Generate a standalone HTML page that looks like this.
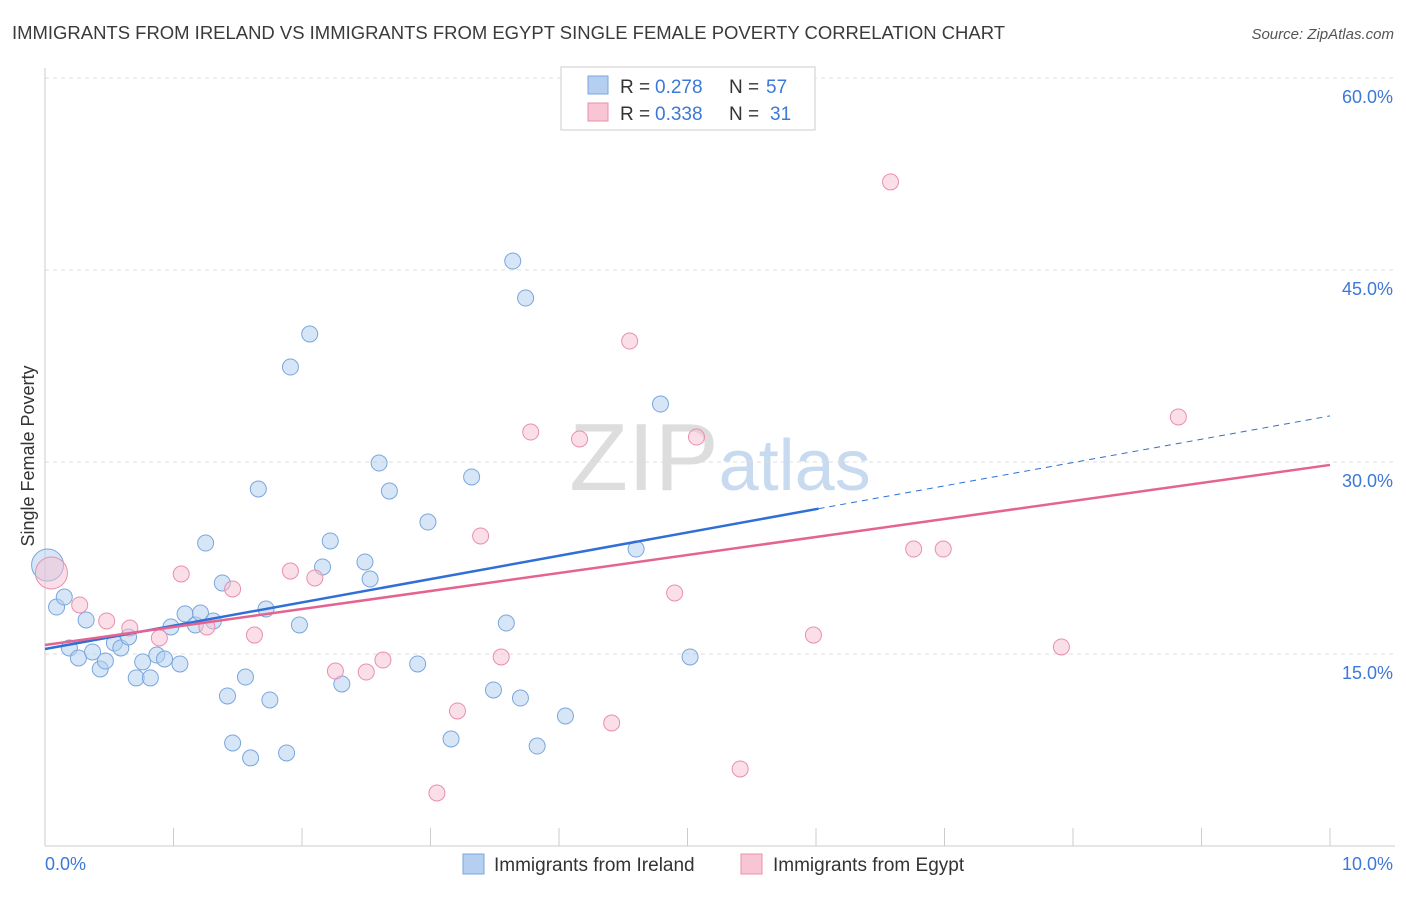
<!DOCTYPE html>
<html><head><meta charset="utf-8"><style>
body{margin:0;background:#fff;font-family:"Liberation Sans",sans-serif;}
svg text{font-family:"Liberation Sans",sans-serif;}
</style></head><body>
<svg id="chart" width="1406" height="892" xmlns="http://www.w3.org/2000/svg">
<text x="12" y="39" font-size="18" fill="#3a3a3a" textLength="993" lengthAdjust="spacingAndGlyphs">IMMIGRANTS FROM IRELAND VS IMMIGRANTS FROM EGYPT SINGLE FEMALE POVERTY CORRELATION CHART</text>
<text x="1394" y="39" font-size="15" fill="#555" text-anchor="end" font-style="italic">Source: ZipAtlas.com</text>
<text transform="translate(34,456) rotate(-90)" font-size="18" fill="#333" text-anchor="middle">Single Female Poverty</text>
<text x="720" y="490" font-size="96" fill="#ddd" text-anchor="middle" font-family="Liberation Serif">ZIP<tspan fill="#c8daf0" font-family="Liberation Sans" font-size="72">atlas</tspan></text>
<g id="grid"></g><g id="axes"></g><g id="marks"></g>
<g>
<rect x="561" y="67" width="254" height="63" fill="#fff" stroke="#ccc"/>
<rect x="588" y="76" width="20" height="18" fill="#b5cff0" stroke="#7aa6dd"/>
<text x="620" y="93" font-size="19" fill="#333">R =</text>
<text x="655" y="93" font-size="19" fill="#3c78d8">0.278</text>
<text x="729" y="93" font-size="19" fill="#333">N =</text>
<text x="766" y="93" font-size="19" fill="#3c78d8">57</text>
<rect x="588" y="103" width="20" height="18" fill="#f8c5d4" stroke="#ea8fab"/>
<text x="620" y="120" font-size="19" fill="#333">R =</text>
<text x="655" y="120" font-size="19" fill="#3c78d8">0.338</text>
<text x="729" y="120" font-size="19" fill="#333">N =</text>
<text x="770" y="120" font-size="19" fill="#3c78d8">31</text>
</g>
<g>
<rect x="463" y="854" width="21" height="20" fill="#b5cff0" stroke="#7aa6dd"/>
<text x="494" y="871" font-size="19" fill="#333">Immigrants from Ireland</text>
<rect x="741" y="854" width="21" height="20" fill="#f8c5d4" stroke="#ea8fab"/>
<text x="773" y="871" font-size="19" fill="#333">Immigrants from Egypt</text>
</g>
</svg>
<script>
const blueX=[.02,.09,.15,.19,.26,.32,.37,.43,.47,.54,.59,.65,.71,.76,.82,.87,.93,.98,1.05,1.09,1.17,1.21,1.25,1.31,1.38,1.42,1.46,1.56,1.60,1.66,1.72,1.75,1.88,1.91,1.98,2.06,2.16,2.22,2.31,2.49,2.53,2.60,2.68,2.90,2.98,3.16,3.32,3.49,3.59,3.64,3.70,3.74,3.83,4.05,4.60,4.79,5.02];
const blueY=[21.95,18.67,19.45,15.47,14.69,17.66,15.16,13.83,14.45,15.86,15.47,16.33,13.13,14.38,13.13,14.92,14.61,17.11,14.22,18.13,17.27,18.2,23.67,17.58,20.55,11.72,8.05,13.2,6.88,27.89,18.52,11.41,7.27,37.42,17.27,40.0,21.8,23.83,12.66,22.19,20.86,29.92,27.73,14.22,25.31,8.36,28.83,12.19,17.42,45.7,11.56,42.81,7.81,10.16,23.2,34.53,14.77];
const pinkX=[.05,.27,.48,.66,.89,1.06,1.26,1.46,1.63,1.91,2.10,2.26,2.50,2.63,3.05,3.21,3.39,3.55,3.78,4.16,4.41,4.55,4.90,5.07,5.41,5.98,6.58,6.76,6.99,7.91,8.82];
const pinkY=[21.33,18.83,17.58,17.03,16.25,21.25,17.11,20.08,16.48,21.48,20.94,13.67,13.59,14.53,4.14,10.55,24.22,14.77,32.34,31.8,9.61,39.45,19.77,31.95,6.02,16.48,51.88,23.2,23.2,15.55,33.52];
const yTicks=[15,30,45,60];
const yTickLabels=["15.0%","30.0%","45.0%","60.0%"];
const xTicks=[0,1,2,3,4,5,6,7,8,9,10];
const blueTrend=[15.39,33.6];
const pinkTrend=[15.7,29.77];
const blueSolidEnd=6.02;
const NS="http://www.w3.org/2000/svg";
const X=v=>45+v*128.5, Y=v=>846-v*12.8;
function mk(parent,tag,attrs){const e=document.createElementNS(NS,tag);for(const k in attrs)e.setAttribute(k,attrs[k]);document.getElementById(parent).appendChild(e);return e;}
yTicks.forEach((t,i)=>{
 const l=mk('grid','line',{x1:45,x2:1395,y1:Y(t),y2:Y(t),stroke:'#ddd','stroke-dasharray':'4,4'});
 
 
 const tx=mk('grid','text',{x:1393,y:Y(t)+25,'font-size':18,fill:'#3c78d8','text-anchor':'end'});
 tx.textContent=yTickLabels[i];
 
 
});
mk('axes','line',{x1:45,x2:45,y1:68,y2:846,stroke:'#ccc'});
mk('axes','line',{x1:45,x2:1395,y1:846,y2:846,stroke:'#ccc'});
xTicks.forEach(t=>{const l=mk('axes','line',{x1:X(t),x2:X(t),y1:828,y2:846,stroke:'#ccc'});
 
 });
let a=mk('axes','text',{x:45,y:870,'font-size':18,fill:'#3c78d8'});a.textContent='0.0%';


a=mk('axes','text',{x:1393,y:870,'font-size':18,fill:'#3c78d8','text-anchor':'end'});a.textContent='10.0%';


function dot(x,y,c,s,i){const big=(i===0);const d=mk('marks','circle',{cx:X(x),cy:Y(y),r:big?16:8,fill:c,'fill-opacity':0.5,stroke:s,'stroke-width':1});
 
 }
blueX.forEach((x,i)=>dot(x,blueY[i],'#b0cdf0','#7aa6dd',i));
pinkX.forEach((x,i)=>dot(x,pinkY[i],'#f7c0d1','#ea8fab',i));
const bAt=v=>blueTrend[0]+(blueTrend[1]-blueTrend[0])*v/10;
let t=mk('marks','line',{x1:X(0),y1:Y(bAt(0)),x2:X(blueSolidEnd),y2:Y(bAt(blueSolidEnd)),stroke:'#2f6fd6','stroke-width':2.5});


t=mk('marks','line',{x1:X(blueSolidEnd),y1:Y(bAt(blueSolidEnd)),x2:X(10),y2:Y(bAt(10)),stroke:'#2f6fd6','stroke-width':1,'stroke-dasharray':'6,5'});


t=mk('marks','line',{x1:X(0),y1:Y(pinkTrend[0]),x2:X(10),y2:Y(pinkTrend[1]),stroke:'#e4648f','stroke-width':2.5});


</script>
</body></html>
